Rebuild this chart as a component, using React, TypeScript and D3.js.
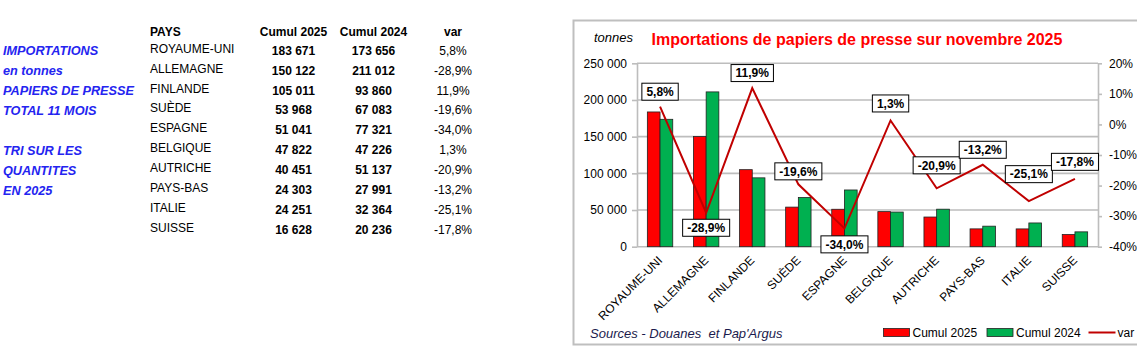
import React, { useEffect, useRef } from "react";
import * as d3 from "d3";

const countries = [
  "ROYAUME-UNI", "ALLEMAGNE", "FINLANDE", "SUÈDE", "ESPAGNE",
  "BELGIQUE", "AUTRICHE", "PAYS-BAS", "ITALIE", "SUISSE",
];
const cumul2025 = [183671, 150122, 105011, 53968, 51041, 47822, 40451, 24303, 24251, 16628];
const cumul2024 = [173656, 211012, 93860, 67083, 77321, 47226, 51137, 27991, 32364, 20236];
const variation = [0.058, -0.289, 0.119, -0.196, -0.34, 0.013, -0.209, -0.132, -0.251, -0.178];

const leftTicks = [0, 50000, 100000, 150000, 200000, 250000];
const rightTicks = [-0.4, -0.3, -0.2, -0.1, 0, 0.1, 0.2];

const tableHeaders = ["PAYS", "Cumul 2025", "Cumul 2024", "var"];
const sideNotes = [
  "IMPORTATIONS", "en tonnes", "PAPIERS DE PRESSE", "TOTAL 11 MOIS",
  "", "TRI SUR LES", "QUANTITES", "EN 2025",
];
const seriesNames = ["Cumul 2025", "Cumul 2024", "var"];
const chartTitle = "Importations de papiers de presse sur novembre 2025";
const sourceNote = "Sources - Douanes  et Pap'Argus";

// label placement above/below each point (layout, not data)
const labelDy = [-15, 15, -15, -13, 16, -17, -23, -15, -27, -17];

const fr = d3.formatLocale({
  decimal: ",",
  thousands: " ",
  grouping: [3],
  currency: ["", " €"],
  minus: "-",
});
const fmtInt = fr.format(",d");
const fmtPct1 = fr.format(".1%");
const fmtPct0 = fr.format(".0%");

const FONT = "'Liberation Sans', Arial, sans-serif";
const RED = "#FF0000";
const GREEN = "#00B050";
const LINE = "#C00000";
const GRID = "#BDBDBD";

export default function App() {
  const svgRef = useRef<SVGSVGElement>(null);

  useEffect(() => {
    if (!svgRef.current) return;
    const svg = d3.select(svgRef.current);
    svg.selectAll("*").remove();

    svg.append("rect").attr("width", 1137).attr("height", 361).attr("fill", "#fff");

    // ---- left table ----
    const table = svg.append("g").attr("font-family", FONT).attr("font-size", 12).attr("fill", "#000");
    const colX = [150, 293.5, 373.5, 453];
    tableHeaders.forEach((h, i) => {
      table.append("text")
        .attr("x", colX[i])
        .attr("y", 32)
        .attr("dy", "0.35em")
        .attr("text-anchor", i === 0 ? "start" : "middle")
        .attr("font-weight", "bold")
        .text(h);
    });
    countries.forEach((c, i) => {
      const yc = 48.5 + i * 19.9;
      table.append("text").attr("x", colX[0]).attr("y", yc).attr("dy", "0.35em").text(c);
      table.append("text").attr("x", colX[1]).attr("y", yc + 2).attr("dy", "0.35em")
        .attr("text-anchor", "middle").attr("font-weight", "bold").text(fmtInt(cumul2025[i]));
      table.append("text").attr("x", colX[2]).attr("y", yc + 2).attr("dy", "0.35em")
        .attr("text-anchor", "middle").attr("font-weight", "bold").text(fmtInt(cumul2024[i]));
      table.append("text").attr("x", colX[3]).attr("y", yc + 2).attr("dy", "0.35em")
        .attr("text-anchor", "middle").text(fmtPct1(variation[i]));
    });
    sideNotes.forEach((t, i) => {
      if (!t) return;
      table.append("text")
        .attr("x", 3)
        .attr("y", 51 + i * 20)
        .attr("dy", "0.35em")
        .attr("font-size", 12.7)
        .attr("font-weight", "bold")
        .attr("font-style", "italic")
        .attr("fill", "#2424F0")
        .text(t);
    });

    // ---- chart frame ----
    svg.append("rect")
      .attr("x", 573.5).attr("y", 20.5)
      .attr("width", 620).attr("height", 324)
      .attr("fill", "#fff").attr("stroke", "#BFBFBF").attr("stroke-width", 2);

    const plot = { left: 637, right: 1098, top: 63.3, bottom: 246.7 };

    const x0 = d3.scaleBand().domain(countries).range([plot.left, plot.right]);
    const x1 = d3.scaleBand().domain(["2025", "2024"]).range([0, x0.bandwidth()]).paddingOuter(0.815);
    const y = d3.scaleLinear().domain([0, 250000]).range([plot.bottom, plot.top]);
    const yR = d3.scaleLinear().domain([-0.4, 0.2]).range([plot.bottom, plot.top]);

    // gridlines
    svg.append("g")
      .selectAll("line")
      .data(leftTicks.filter(t => t > 0))
      .join("line")
      .attr("x1", plot.left).attr("x2", plot.right)
      .attr("y1", d => y(d)).attr("y2", d => y(d))
      .attr("stroke", GRID).attr("stroke-width", 1.6);

    // left axis
    const axL = svg.append("g")
      .attr("transform", `translate(${plot.left},0)`)
      .call(d3.axisLeft(y).tickValues(leftTicks).tickFormat(d => fmtInt(d as number)).tickSize(5).tickSizeOuter(0).tickPadding(5));
    axL.selectAll("path, line").attr("stroke", GRID).attr("stroke-width", 1.6);
    axL.selectAll("text").attr("font-family", FONT).attr("font-size", 12).attr("fill", "#000");

    // right axis
    const axR = svg.append("g")
      .attr("transform", `translate(${plot.right},0)`)
      .call(d3.axisRight(yR).tickValues(rightTicks).tickFormat(d => fmtPct0(d as number)).tickSize(4).tickSizeOuter(0).tickPadding(7));
    axR.selectAll("path, line").attr("stroke", GRID).attr("stroke-width", 1.6);
    axR.selectAll("text").attr("font-family", FONT).attr("font-size", 12).attr("fill", "#000");

    // bottom axis line
    svg.append("line")
      .attr("x1", plot.left).attr("x2", plot.right)
      .attr("y1", plot.bottom).attr("y2", plot.bottom)
      .attr("stroke", GRID).attr("stroke-width", 1.6);

    // bars
    const barData = countries.flatMap((c, i) => [
      { c, key: "2025", value: cumul2025[i], color: RED },
      { c, key: "2024", value: cumul2024[i], color: GREEN },
    ]);
    svg.append("g")
      .selectAll("rect")
      .data(barData)
      .join("rect")
      .attr("x", d => (x0(d.c) || 0) + (x1(d.key) || 0))
      .attr("y", d => y(d.value))
      .attr("width", x1.bandwidth())
      .attr("height", d => plot.bottom - y(d.value))
      .attr("fill", d => d.color)
      .attr("stroke", "#222")
      .attr("stroke-width", 0.8);

    // var line
    const cx = (i: number) => (x0(countries[i]) || 0) + x0.bandwidth() / 2;
    const line = d3.line<number>().x((_, i) => cx(i)).y(d => yR(d));
    svg.append("path")
      .datum(variation)
      .attr("d", line)
      .attr("fill", "none")
      .attr("stroke", LINE)
      .attr("stroke-width", 2);

    // data labels
    variation.forEach((v, i) => {
      const g = svg.append("g").attr("transform", `translate(${cx(i)},${yR(v) + labelDy[i]})`);
      const rect = g.append("rect");
      const t = g.append("text")
        .attr("text-anchor", "middle")
        .attr("dy", "0.36em")
        .attr("font-family", FONT)
        .attr("font-size", 12)
        .attr("font-weight", "bold")
        .attr("fill", "#000")
        .text(fmtPct1(v));
      const w = (t.node() as SVGTextElement).getComputedTextLength();
      rect.attr("x", -w / 2 - 4.5).attr("y", -8.5).attr("width", w + 9).attr("height", 17)
        .attr("fill", "#fff").attr("stroke", "#000").attr("stroke-width", 1);
    });

    // x labels
    svg.append("g")
      .selectAll("text")
      .data(countries)
      .join("text")
      .attr("transform", (_, i) => `translate(${cx(i)},${plot.bottom + 11.5}) rotate(-45)`)
      .attr("text-anchor", "end")
      .attr("dy", "0.35em")
      .attr("font-family", FONT)
      .attr("font-size", 12)
      .attr("fill", "#000")
      .text(d => d);

    // title + units
    svg.append("text")
      .attr("x", 651.5).attr("y", 45)
      .attr("font-family", FONT).attr("font-size", 16).attr("font-weight", "bold")
      .attr("fill", RED)
      .text(chartTitle);
    svg.append("text")
      .attr("x", 594).attr("y", 42)
      .attr("font-family", FONT).attr("font-size", 13).attr("font-style", "italic")
      .attr("fill", "#000")
      .text("tonnes");

    // source
    svg.append("text")
      .attr("x", 590).attr("y", 338)
      .attr("font-family", FONT).attr("font-size", 13).attr("font-style", "italic")
      .attr("fill", "#1B1B4D")
      .attr("xml:space", "preserve")
      .style("white-space", "pre")
      .text(sourceNote);

    // legend
    const legend = svg.append("g").attr("font-family", FONT).attr("font-size", 12).attr("fill", "#000");
    const legendX = [883.5, 987, 1088.5];
    [RED, GREEN].forEach((col, i) => {
      legend.append("rect")
        .attr("x", legendX[i]).attr("y", 328.5).attr("width", 26).attr("height", 8)
        .attr("fill", col).attr("stroke", "#222").attr("stroke-width", 0.8);
      legend.append("text").attr("x", legendX[i] + 29).attr("y", 337).text(seriesNames[i]);
    });
    legend.append("line")
      .attr("x1", legendX[2]).attr("x2", legendX[2] + 27)
      .attr("y1", 332.5).attr("y2", 332.5)
      .attr("stroke", LINE).attr("stroke-width", 2);
    legend.append("text").attr("x", legendX[2] + 29).attr("y", 337).text(seriesNames[2]);
  }, []);

  return (
    <svg
      ref={svgRef}
      width={1137}
      height={361}
      style={{ position: "absolute", left: 0, top: 0, display: "block" }}
    />
  );
}
